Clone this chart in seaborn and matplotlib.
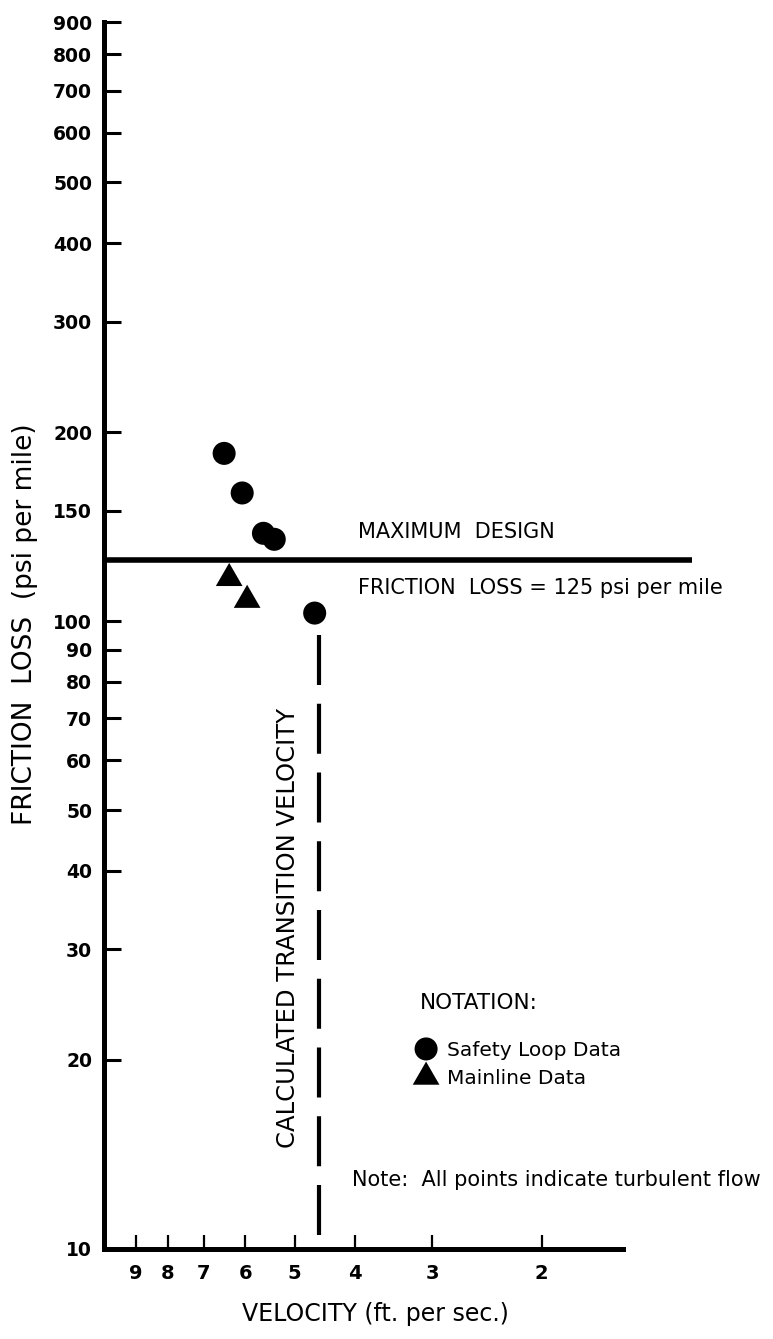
import matplotlib
matplotlib.use("Agg")
import matplotlib.pyplot as plt
from matplotlib.ticker import NullLocator
import pandas as pd
import seaborn as sns

# Safety loop tests: velocity (ft/s) and friction loss (psi per mile)
safety_velocity = [6.49, 6.07, 5.61, 5.39, 4.64]
safety_friction = [185, 160, 138, 135, 103]

# Mainline tests
mainline_velocity = [6.37, 5.96]
mainline_friction = [117, 108]

design_limit = 125          # maximum design friction loss, psi per mile
transition_velocity = 4.57  # calculated laminar/turbulent transition, ft/s
transition_top = 95         # upper end of the transition marker line

x_ticks = [9, 8, 7, 6, 5, 4, 3, 2]
y_ticks = [10, 20, 30, 40, 50, 60, 70, 80, 90, 100, 150,
           200, 300, 400, 500, 600, 700, 800, 900]

safety = pd.DataFrame({"velocity": safety_velocity, "friction": safety_friction})
mainline = pd.DataFrame({"velocity": mainline_velocity, "friction": mainline_friction})

sns.set_style("ticks")
plt.rcParams["font.family"] = ["DejaVu Sans"]
plt.rcParams["text.color"] = "black"
plt.rcParams["axes.labelcolor"] = "black"
plt.rcParams["xtick.color"] = "black"
plt.rcParams["ytick.color"] = "black"

W, H = 773, 1339
fig = plt.figure(figsize=(W / 100, H / 100), dpi=100)
ax_l, ax_r, ax_t, ax_b = 104, 623, 22, 1249
ax = fig.add_axes([ax_l / W, 1 - ax_b / H, (ax_r - ax_l) / W, (ax_b - ax_t) / H])

ax.set_xscale("log")
ax.set_yscale("log")
xlim = (10.13, 1.48)
ax.set_xlim(*xlim)
ax.set_ylim(10, 900)

# data points
sns.scatterplot(data=safety, x="velocity", y="friction", ax=ax,
                marker="o", s=275, color="black", edgecolor="none",
                linewidth=0, label="Safety Loop Data", legend=False)
sns.scatterplot(data=mainline, x="velocity", y="friction", ax=ax,
                marker=(3, 0, 0), s=493, color="black", edgecolor="none",
                linewidth=0, label="Mainline Data", legend=False)

# maximum design friction loss
ax.plot([xlim[0], 1.146], [design_limit, design_limit], color="black",
        lw=4, clip_on=False, solid_capstyle="butt", zorder=3)

# calculated transition velocity
ax.plot([transition_velocity, transition_velocity], [transition_top, 10],
        color="black", lw=3, linestyle=(0, (12, 4.5)),
        dash_capstyle="butt", zorder=3)

ax.set_xlim(*xlim)
ax.set_ylim(10, 900)

# axes styling
sns.despine(ax=ax)
for side in ("left", "bottom"):
    ax.spines[side].set_linewidth(3.6)
    ax.spines[side].set_color("black")

ax.set_xticks(x_ticks, labels=[str(v) for v in x_ticks], fontweight="bold")
ax.set_yticks(y_ticks, labels=[str(v) for v in y_ticks], fontweight="bold")
ax.xaxis.set_minor_locator(NullLocator())
ax.yaxis.set_minor_locator(NullLocator())
ax.tick_params(axis="y", direction="in", length=12, width=2.2, pad=8.5,
               labelsize=13.5, color="black", labelcolor="black")
ax.tick_params(axis="x", direction="in", length=10, width=1.6, pad=11,
               labelsize=14, color="black", labelcolor="black")

ax.set_ylabel("FRICTION  LOSS  (psi per mile)", fontsize=19, color="black")
ax.yaxis.set_label_coords((38 - ax_l) / (ax_r - ax_l), 0.509)
ax.set_xlabel("VELOCITY (ft. per sec.)", fontsize=17, color="black")
ax.xaxis.set_label_coords((375 - ax_l) / (ax_r - ax_l), -0.0432)

def fx(px):
    return (px - ax_l) / (ax_r - ax_l)

def fy(py):
    return (ax_b - py) / (ax_b - ax_t)

ax.text(fx(358), fy(532), "MAXIMUM  DESIGN", transform=ax.transAxes,
        fontsize=15, ha="left", va="center", color="black")
ax.text(fx(358), fy(588), "FRICTION  LOSS = 125 psi per mile",
        transform=ax.transAxes, fontsize=15, ha="left", va="center",
        color="black")
ax.text(fx(288), fy(928), "CALCULATED TRANSITION VELOCITY",
        transform=ax.transAxes, fontsize=17.5, rotation=90,
        ha="center", va="center", color="black")
ax.text(fx(420), fy(1003), "NOTATION:", transform=ax.transAxes,
        fontsize=15.5, ha="left", va="center", color="black")
ax.text(fx(352), fy(1180), "Note:  All points indicate turbulent flow",
        transform=ax.transAxes, fontsize=15, ha="left", va="center",
        color="black")

handles, labels = ax.get_legend_handles_labels()
leg = ax.legend(handles, labels, loc="upper left",
                bbox_to_anchor=(fx(414), fy(1041)), frameon=False,
                fontsize=14.5, borderaxespad=0, borderpad=0,
                handlelength=1.2, handletextpad=0.42, labelspacing=0.45,
                scatterpoints=1, scatteryoffsets=[0.5], markerscale=1)
for t in leg.get_texts():
    t.set_color("black")

fig.savefig("out.png", dpi=100, facecolor="white")
